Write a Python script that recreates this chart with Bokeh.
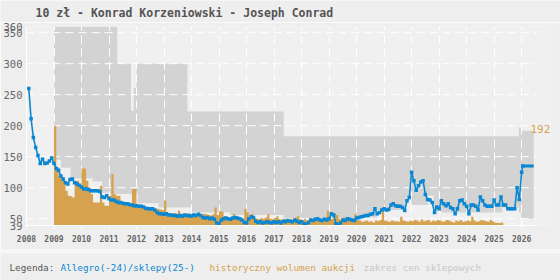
from bokeh.plotting import figure
from bokeh.models import Range1d, FixedTicker, Label
from bokeh.layouts import column
from bokeh.embed import file_html
from bokeh.resources import INLINE
from bokeh.core.properties import value

TITLE = "10 zł - Konrad Korzeniowski - Joseph Conrad"

# Allegro monthly average prices, first month Jan 2008
allegro_start = 2008 + 1 / 12
allegro_price = [
    260, 211, 181, 165, 152, 139, 146, 139, 140, 143, 148, 139,   # 2008
    131, 128, 119, 114, 108, 106, 113, 114, 108, 106, 104, 101,   # 2009
    98, 98, 97, 95, 95, 95, 95, 94, 85, 84, 87, 82,               # 2010
    80, 80, 78, 76, 76, 75, 74, 74, 73, 72, 71, 71,               # 2011
    70, 70, 69, 67, 66, 66, 66, 64, 60, 58, 58, 57,               # 2012
    58, 56, 56, 55, 55, 54, 55, 54, 56, 55, 55, 54,               # 2013
    56, 55, 57, 55, 52, 51, 52, 50, 51, 49, 43, 42,               # 2014
    48, 50, 51, 50, 49, 51, 52, 51, 50, 48, 44, 43,               # 2015
    50, 53, 52, 46, 44, 45, 43, 44, 45, 44, 43, 45,               # 2016
    44, 45, 43, 46, 45, 47, 46, 45, 48, 46, 44, 45,               # 2017
    42, 41, 44, 48, 47, 49, 50, 48, 47, 49, 48, 50,               # 2018
    58, 56, 42, 40, 43, 48, 47, 50, 49, 48, 47, 51,               # 2019
    52, 53, 54, 55, 55, 57, 58, 66, 58, 60, 64, 66,               # 2020
    64, 65, 72, 74, 71, 70, 70, 68, 63, 79, 84, 125,              # 2021
    111, 96, 103, 109, 111, 89, 81, 80, 76, 60, 69, 66,           # 2022
    79, 74, 71, 74, 68, 66, 58, 66, 79, 80, 74, 70,               # 2023
    58, 72, 72, 70, 64, 85, 79, 72, 70, 70, 70, 80,               # 2024
    72, 72, 85, 72, 72, 66, 66, 66, 66, 100, 81, 125,             # 2025
]

# shop prices (sklepy)
shop_period = [2026.04, 2026.44]
shop_price = [135, 135]

# historical auction volume (scaled), monthly bars from Jan 2009
volume_start = 2009.0
volume = [
    200, 133, 119, 115, 111, 95, 87, 86, 84, 111, 111, 103,       # 2009
    131, 131, 111, 100, 90, 76, 76, 76, 103, 76, 71, 71,          # 2010
    87, 122, 90, 87, 87, 74, 75, 73, 74, 74, 98, 98,              # 2011
    71, 72, 70, 66, 67, 65, 66, 66, 65, 66, 65, 64,               # 2012
    79, 60, 58, 57, 59, 58, 63, 58, 57, 56, 58, 57,               # 2013
    58, 56, 57, 55, 56, 58, 57, 56, 55, 57, 68, 56,               # 2014
    62, 61, 54, 52, 50, 52, 58, 52, 50, 51, 49, 66,               # 2015
    60, 50, 58, 52, 50, 49, 51, 50, 52, 57, 50, 49,               # 2016
    51, 54, 49, 48, 50, 49, 47, 50, 48, 52, 54, 49,               # 2017
    48, 50, 47, 49, 48, 51, 50, 48, 47, 50, 52, 63,               # 2018
    49, 50, 58, 56, 50, 48, 52, 49, 50, 48, 50, 57,               # 2019
    48, 47, 45, 46, 47, 45, 46, 44, 47, 46, 48, 63,               # 2020
    47, 46, 45, 47, 46, 46, 45, 53, 47, 46, 45, 47,               # 2021
    46, 48, 47, 45, 49, 46, 47, 48, 45, 47, 46, 48,               # 2022
    47, 45, 46, 48, 47, 45, 44, 47, 46, 48, 45, 46,               # 2023
    47, 46, 53, 47, 45, 46, 48, 47, 46, 45, 48, 46,               # 2024
    44, 43, 43, 44,                                               # 2025
]

# shop price range (zakres cen sklepowych), step breakpoints
band_x = [2009.0, 2009.25, 2009.6, 2010.4, 2010.75, 2011.05, 2011.3, 2011.8,
          2011.9, 2012.0, 2012.05, 2012.8, 2013.85, 2014.0, 2015.4, 2017.35,
          2020.0, 2020.75, 2021.8, 2022.0, 2022.2, 2022.6, 2022.8, 2023.1,
          2025.3, 2025.9, 2025.98, 2026.44]
band_low = [145, 132, 115, 110, 92, 90, 90, 90,
            90, 90, 75, 68, 68, 60, 56, 51,
            52, 64, 84, 72, 72, 87, 62, 60,
            68, 60, 50, 50]
band_high = [360, 360, 360, 360, 360, 360, 300, 224,
             261, 300, 300, 300, 223, 223, 223, 183,
             183, 183, 183, 183, 183, 183, 183, 183,
             183, 197, 192, 192]

y_ticks = [39, 50, 100, 150, 200, 250, 300, 350, 360]
y_grid = [50, 100, 150, 200, 250, 300, 350]
x_ticks = list(range(2008, 2027))
x_axis_end = 2026.55

BLUE = "#0b87d2"
ORANGE = "#d6a24f"
GRAY = "#d3d3d3"
FONT = "DejaVu Sans Mono"
BG = "#eeeeee"

allegro_x = [allegro_start + i / 12 for i in range(len(allegro_price))]

# monthly volume as one stepped area (bars without seams)
vx, vtop = [], []
for i, v in enumerate(volume):
    vx += [volume_start + i / 12, volume_start + (i + 1) / 12]
    vtop += [v, v]

bx, blo, bhi = [], [], []
for i in range(len(band_x) - 1):
    bx += [band_x[i], band_x[i + 1]]
    blo += [band_low[i], band_low[i]]
    bhi += [band_high[i], band_high[i]]


def strip(height):
    f = figure(width=560, height=height, x_range=Range1d(0, 560),
               y_range=Range1d(0, height), output_backend="svg",
               toolbar_location=None, x_axis_type=None, y_axis_type=None,
               min_border=0, background_fill_color=BG, border_fill_color=BG,
               outline_line_color=None, title=None)
    f.frame_align = False
    f.xgrid.visible = False
    f.ygrid.visible = False
    return f


# title strip
t = strip(22)
t.text(x=[35], y=[10], text=[TITLE], text_font=value(FONT),
       text_font_size=value("11.5px"), text_font_style="bold",
       text_color="#555555", text_baseline="middle")

p = figure(width=560, height=227, x_range=Range1d(2008, 2008 + 525 / 27.56),
           y_range=Range1d(y_ticks[0], y_ticks[-1]), title=None,
           output_backend="svg", toolbar_location=None,
           min_border_left=25, min_border_right=10, min_border_top=4,
           min_border_bottom=24, background_fill_color="#f0f0f0",
           border_fill_color=BG, outline_line_color=None)
p.frame_align = False

xa = p.xaxis[0]
xa.ticker = FixedTicker(ticks=x_ticks)
xa.bounds = (x_ticks[0], x_axis_end)
xa.axis_line_color = "white"
xa.major_tick_line_color = "white"
xa.major_tick_out = 3
xa.major_tick_in = 0
xa.minor_tick_line_color = None
xa.major_label_text_font = FONT
xa.major_label_text_font_size = "8px"
xa.major_label_text_font_style = "bold"
xa.major_label_text_color = "#666666"
xa.major_label_standoff = 6
xa.major_label_text_align = "left"

ya = p.yaxis[0]
ya.ticker = FixedTicker(ticks=y_ticks)
ya.axis_line_color = "white"
ya.major_tick_out = 0
ya.major_tick_in = 0
ya.minor_tick_line_color = None
ya.major_label_text_font = FONT
ya.major_label_text_font_size = "10.5px"
ya.major_label_text_color = "#666666"
ya.major_label_standoff = 4
ya.major_label_text_baseline = "top"

p.xgrid.ticker = FixedTicker(ticks=x_ticks)
p.xgrid.grid_line_color = "white"
p.xgrid.grid_line_dash = "8 5"
p.xgrid.grid_line_width = 1
p.ygrid.visible = False
p.segment(x0=x_ticks[0], x1=x_axis_end, y0=y_grid, y1=y_grid,
          line_color="white", line_dash="8 5", line_width=1, level="underlay")

p.varea(x=bx, y1=blo, y2=bhi, fill_color=GRAY, level="image")
p.varea(x=vx, y1=y_ticks[0], y2=vtop, fill_color=ORANGE)
p.line(allegro_x, allegro_price, line_color=BLUE, line_width=1.6)
p.line([allegro_x[-1], shop_period[0]], [allegro_price[-1], shop_price[0]],
       line_color=BLUE, line_width=1.6)
p.scatter(allegro_x + [shop_period[0]], allegro_price + [shop_price[0]],
          marker="square", size=3.5, fill_color=BLUE, line_color=None)
p.line(shop_period, shop_price, line_color=BLUE, line_width=3)

p.add_layout(Label(x=2026.32, y=band_high[-1], text=str(band_high[-1]),
                   text_color=ORANGE, text_font=FONT, text_font_size="11px",
                   text_baseline="middle", y_offset=2))

# legend strip
q = strip(31)
q.quad(left=0, right=560, bottom=27, top=31, fill_color="#f7f7f7", line_color=None)
for xpos, txt, col in [(9, "Legenda:", "#555555"),
                       (60, "Allegro(-24)/sklepy(25-)", BLUE),
                       (209, "historyczny wolumen aukcji", ORANGE),
                       (363, "zakres cen sklepowych", "#c8c8c8")]:
    q.text(x=[xpos], y=[13], text=[txt], text_font=value(FONT),
           text_font_size=value("9.3px"), text_color=col, text_baseline="middle")

layout = column(t, p, q, spacing=0)
open("out.html", "w").write(file_html(layout, INLINE))
